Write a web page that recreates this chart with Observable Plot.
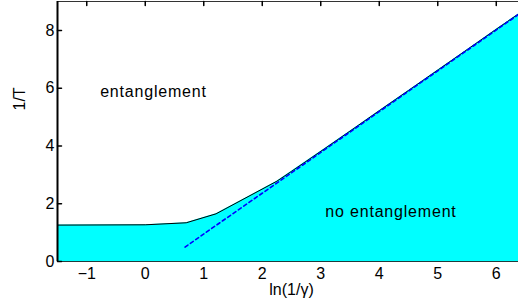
<!DOCTYPE html>
<html><head><meta charset="utf-8">
<script src="https://cdn.jsdelivr.net/npm/d3@7"></script>
<script src="https://cdn.jsdelivr.net/npm/@observablehq/plot@0.6"></script>
<style>body{margin:0;background:#fff}</style>
</head><body><div id="chart"></div>
<script>
// boundary curve 1/T vs ln(1/gamma)
const curveX = [-1.5, 0, 0.70, 1.21, 2.25, 2.50, 3.07, 3.64, 4.0, 4.5, 5.01, 5.52, 6.0, 6.38];
const curveY = [1.26, 1.27, 1.34, 1.65, 2.78, 3.12, 3.91, 4.71, 5.22, 5.92, 6.64, 7.36, 8.04, 8.57];
// asymptote (dashed)
const asymX = [0.68, 6.38];
const asymY = [0.50, 8.55];
// ticks
const xTicks = [-1, 0, 1, 2, 3, 4, 5, 6];
const yTicks = [0, 2, 4, 6, 8];
// region labels
const regionLabels = ["entanglement", "no entanglement"];
const labelX = [0.14, 4.20];
const labelY = [5.86, 1.71];
const xLabel = "ln(1/γ)";
const yLabel = "1/T";

const curve = curveX.map((x, i) => ({x, y: curveY[i]}));
const asym = asymX.map((x, i) => ({x, y: asymY[i]}));
const tickShape = {draw(ctx, l) { ctx.moveTo(0, 0); ctx.lineTo(0, -l); }};

const chart = Plot.plot({
  width: 518, height: 304,
  marginLeft: 57, marginRight: 0, marginTop: 1, marginBottom: 43,
  x: {domain: [-1.5, 6.38]},
  y: {domain: [0, 9]},
  style: {fontFamily: "'Liberation Sans', Arial, sans-serif", fontSize: "16px", background: "white", color: "black"},
  marks: [
    Plot.areaY(curve, {x: "x", y: "y", fill: "#00ffff"}),
    Plot.line(curve, {x: "x", y: "y", stroke: "black", strokeWidth: 1}),
    Plot.line(asym, {x: "x", y: "y", stroke: "#0000ff", strokeWidth: 1.6, strokeDasharray: "3.5,3"}),
    Plot.ruleY([0], {stroke: "#1e3c3c", strokeWidth: 1.2}),
    Plot.ruleY([9], {stroke: "#333", strokeWidth: 1}),
    Plot.ruleX([-1.5], {stroke: "black", strokeWidth: 2}),
    Plot.axisX({ticks: xTicks, tickSize: 0, tickPadding: 6, label: null}),
    Plot.axisY({ticks: yTicks, tickSize: 0, tickPadding: 3, label: null}),
    Plot.vector(yTicks, {y: d => d, frameAnchor: "left", length: 4, rotate: 90, anchor: "start", shape: tickShape, stroke: "black"}),
    Plot.vector(xTicks, {x: d => d, frameAnchor: "top", length: 4, rotate: 180, anchor: "start", shape: tickShape, stroke: "black"}),
    Plot.text(regionLabels, {x: (d, i) => labelX[i], y: (d, i) => labelY[i], text: d => d, lineAnchor: "middle", fill: "black", className: "region"}),
    Plot.text([yLabel], {frameAnchor: "left", text: d => d, rotate: -90, dx: -38, dy: -21, lineAnchor: "middle", fill: "black"}),
    Plot.text([xLabel], {frameAnchor: "bottom", text: d => d, dx: 3.5, dy: 28, lineAnchor: "middle", fill: "black"})
  ]
});
document.getElementById("chart").appendChild(chart);
d3.select(chart).selectAll(".region text").style("letter-spacing", "0.8px");
</script>
</body></html>
